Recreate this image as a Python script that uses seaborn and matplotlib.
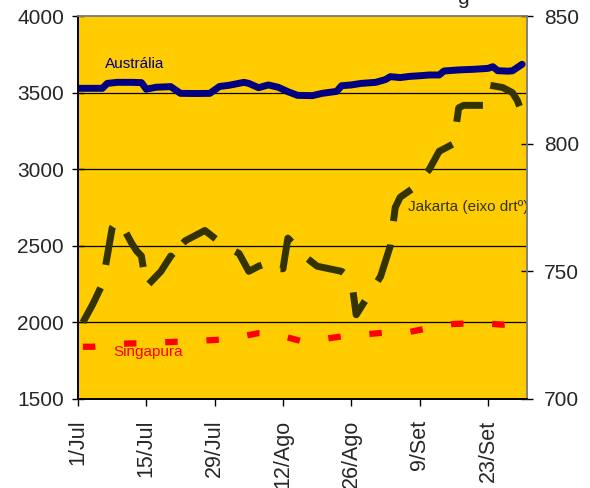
import numpy as np
import pandas as pd
import matplotlib
matplotlib.use("Agg")
import matplotlib.pyplot as plt
import seaborn as sns

# ---------------- data (days after 1 July, values) ----------------
start = pd.Timestamp("2004-07-01")

aus_days = [0, 5, 6, 8, 11, 13, 14, 16, 19, 21, 24, 27, 29, 31, 34, 35, 37, 39, 41, 43,
            45, 48, 50, 53, 54, 56, 58, 61, 63, 64, 66, 68, 70, 72, 74, 75, 78, 81, 84, 85,
            86, 88, 89, 91]
aus_vals = [3528, 3528, 3560, 3567, 3567, 3565, 3522, 3535, 3539, 3495, 3494, 3495, 3540,
            3548, 3567, 3560, 3532, 3550, 3535, 3506, 3482, 3480, 3495, 3508, 3545, 3550,
            3560, 3567, 3585, 3604, 3598, 3606, 3610, 3615, 3615, 3641, 3648, 3652, 3658,
            3669, 3643, 3640, 3642, 3685]

sin_days = [1, 3, 10, 13, 19, 22, 28, 31, 37, 40, 46, 49, 56, 58, 65, 68, 74, 77, 83, 87, 91]
sin_vals = [1841, 1841, 1862, 1864, 1872, 1876, 1885, 1893, 1930, 1927, 1876, 1886, 1917,
            1919, 1940, 1938, 1977, 1990, 1995, 1985, 1990]

jak_days = [1, 3, 5, 6, 7, 8, 9, 11, 12, 13, 14, 17, 19, 20, 21, 22, 26, 28, 30, 33, 35,
            37, 40, 41, 42, 43, 45, 47, 49, 54, 56, 57, 62, 63, 64, 65, 66, 69, 72, 74, 76,
            77, 78, 79, 83, 84, 87, 89, 90, 91]
jak_vals = [730, 737, 745, 756, 767, 770, 768, 761, 758, 756, 744, 750, 756, 754, 760, 762,
            766, 763, 760, 757, 750, 752, 754, 751, 751, 763, 759, 755, 752, 750, 747, 733,
            748, 754, 760, 775, 779, 783, 790, 797, 799, 800, 814, 815, 815, 823, 822, 820,
            817, 812]

tick_days = [0, 14, 28, 42, 56, 70, 84]
tick_labels = ["1/Jul", "15/Jul", "29/Jul", "12/Ago", "26/Ago", "9/Set", "23/Set"]

left_ticks = [1500, 2000, 2500, 3000, 3500, 4000]
right_ticks = [700, 750, 800, 850]

# ---------------- build frames ----------------
def to_dates(days):
    return [start + pd.Timedelta(days=d) for d in days]

aus = pd.DataFrame({"date": to_dates(aus_days), "v": aus_vals})
sin = pd.DataFrame({"date": to_dates(sin_days), "v": sin_vals})
jak = pd.DataFrame({"date": to_dates(jak_days), "v": jak_vals})

sns.set_theme(style="white")
plt.rcParams["font.family"] = ["Liberation Sans", "DejaVu Sans"]

fig = plt.figure(figsize=(5.9, 4.88), dpi=100)
ax = fig.add_axes([78 / 590, 1 - 399 / 488, 449 / 590, 383 / 488])
ax.set_facecolor("#FFCC00")

for t in left_ticks[1:-1]:
    ax.axhline(t, color="black", lw=0.9, zorder=1)

sns.lineplot(data=sin, x="date", y="v", ax=ax, color="#FF0000", linewidth=4.5, zorder=3)
ax.lines[-1].set_linestyle((0, (2.0, 4.6)))
ax.lines[-1].set_solid_capstyle("butt")
ax.lines[-1].set_dash_capstyle("butt")
sns.lineplot(data=aus, x="date", y="v", ax=ax, color="#000080", linewidth=5, zorder=4)
ax.lines[-1].set_solid_joinstyle("round")
ax.lines[-1].set_solid_capstyle("round")

ax2 = ax.twinx()
sns.lineplot(data=jak, x="date", y="v", ax=ax2, color="#333300", linewidth=5, zorder=3)
ax2.lines[-1].set_linestyle((0, (5.6, 3.4)))
ax2.lines[-1].set_dash_capstyle("butt")

xmin = start
xmax = start + pd.Timedelta(days=92)
ax.set_xlim(xmin, xmax)
ax.set_ylim(1500, 4000)
ax2.set_ylim(700, 850)

ax.set_xticks(to_dates(tick_days))
ax.set_xticklabels(tick_labels, rotation=90, fontsize=15.5)
ax.set_yticks(left_ticks)
ax.set_yticklabels([str(v) for v in left_ticks], fontsize=15)
ax2.set_yticks(right_ticks)
ax2.set_yticklabels([str(v) for v in right_ticks], fontsize=15)
ax.set_xlabel("")
ax.set_ylabel("")
ax2.set_ylabel("")

ax.tick_params(axis="y", direction="inout", length=8, width=1, color="black", pad=6)
ax.tick_params(axis="x", direction="out", length=5, width=1, color="black", pad=10, bottom=True)
ax2.tick_params(axis="y", direction="inout", length=9, width=1, color="black", pad=8, right=True)

for a in (ax, ax2):
    for s in a.spines.values():
        s.set_linewidth(1.2)
    a.spines["left"].set_color("black")
    a.spines["bottom"].set_color("black")
    a.spines["top"].set_color("#808080")
    a.spines["right"].set_color("#808080")

ax.text(0.060, 0.864, "Austrália", transform=ax.transAxes, color="#000080",
        fontsize=11, va="baseline", ha="left", zorder=6)
ax.text(0.735, 0.491, "Jakarta (eixo drtº)", transform=ax.transAxes, color="#333300",
        fontsize=11, va="baseline", ha="left", zorder=6)
ax.text(0.078, 0.112, "Singapura", transform=ax.transAxes, color="#FF0000",
        fontsize=11, va="baseline", ha="left", zorder=6)

# tail of the (cut-off) chart title visible at the top edge
fig.text(463 / 590, 1 - 4 / 488, "g", fontsize=15, ha="center", va="baseline")

fig.savefig("out.png", dpi=100, facecolor="white")
